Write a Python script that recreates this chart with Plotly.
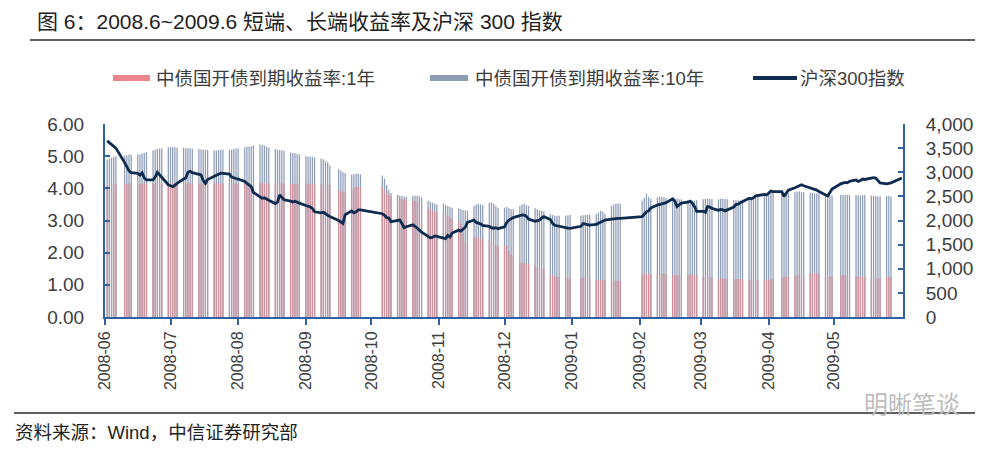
import pandas as pd
import plotly.graph_objects as go

# ---------------- data ----------------
holidays = ["2008-06-09", "2008-09-15", "2008-09-29", "2008-09-30", "2008-10-01",
            "2008-10-02", "2008-10-03", "2009-01-01", "2009-01-02", "2009-01-26",
            "2009-01-27", "2009-01-28", "2009-01-29", "2009-01-30", "2009-04-06",
            "2009-05-01", "2009-05-28", "2009-05-29"]
trade_days = pd.bdate_range("2008-06-02", "2009-06-01", freq="C", holidays=holidays)
dates = [d.strftime("%Y-%m-%d") for d in trade_days]

month_ticks = ["2008-06-01", "2008-07-01", "2008-08-01", "2008-09-01", "2008-10-01",
               "2008-11-01", "2008-12-01", "2009-01-01", "2009-02-01", "2009-03-01",
               "2009-04-01", "2009-05-01"]
month_labels = ["2008-06", "2008-07", "2008-08", "2008-09", "2008-10", "2008-11",
                "2008-12", "2009-01", "2009-02", "2009-03", "2009-04", "2009-05"]

# 沪深300指数 (daily close)
hs_jun08 = [3650, 3610, 3580, 3550, 3500, 3200, 3120, 3030, 2990, 2975, 2940, 2990, 2880, 2840,
            2840, 2900, 3000, 2950, 2880, 2740]
hs_jul08 = [2720, 2700, 2730, 2770, 2860, 2880, 3000, 3020, 2990, 2960, 2945, 2830, 2770, 2850,
            2930, 2940, 2960, 2980, 2975, 2960, 2900, 2880, 2870]
hs_aug08 = [2860, 2810, 2770, 2740, 2700, 2580, 2480, 2460, 2470, 2440, 2420, 2350, 2380, 2530,
            2480, 2430, 2400, 2385, 2400, 2375, 2360]
hs_sep08 = [2310, 2300, 2280, 2250, 2180, 2160, 2170, 2140, 2100, 2080, 2000, 1960, 1940, 2120,
            2200, 2160, 2180, 2220, 2220]
hs_oct08 = [2140, 2110, 2060, 2050, 1975, 1990, 2010, 1940, 1850, 1870, 1910, 1880, 1840, 1800,
            1760, 1670, 1640, 1650, 1680, 1670]
hs_nov08 = [1640, 1625, 1690, 1660, 1740, 1800, 1780, 1830, 1860, 1960, 2010, 1960, 1950, 1930,
            1900, 1880, 1850, 1840, 1850, 1830]
hs_dec08 = [1870, 1960, 2010, 2040, 2060, 2100, 2115, 2110, 2085, 2030, 1985, 1995, 2010, 2050,
            2080, 2020, 1940, 1900, 1890, 1865, 1845, 1840, 1838]
hs_jan09 = [1880, 1935, 1925, 1900, 1905, 1920, 1940, 1960, 1990, 2010, 2030, 2040, 2040, 2045,
            2045]
hs_feb09 = [2080, 2130, 2180, 2200, 2260, 2320, 2330, 2340, 2350, 2370, 2450, 2400, 2290, 2330,
            2360, 2380, 2400, 2360, 2290, 2190]
hs_mar09 = [2190, 2170, 2290, 2280, 2250, 2210, 2230, 2220, 2200, 2220, 2280, 2330, 2340, 2370,
            2390, 2460, 2450, 2470, 2510, 2520, 2540, 2530]
hs_apr09 = [2580, 2610, 2600, 2600, 2500, 2560, 2630, 2680, 2700, 2710, 2740, 2720, 2680, 2660,
            2640, 2630, 2600, 2530, 2510, 2580, 2650]
hs_may09 = [2760, 2770, 2790, 2780, 2810, 2840, 2810, 2830, 2860, 2850, 2870, 2890, 2880, 2820,
            2780, 2760, 2770, 2780]
hs_jun09 = [2880]

# 中债国开债到期收益率:10年
y10_jun08 = [4.90, 4.92, 4.95, 4.98, 5.00, 5.02, 5.03, 5.05, 5.05, 5.05, 5.06, 5.08, 5.10, 5.12,
             5.18, 5.20, 5.22, 5.24, 5.25, 5.27]
y10_jul08 = [5.28, 5.29, 5.28, 5.27, 5.26, 5.25, 5.25, 5.24, 5.23, 5.22, 5.21, 5.20, 5.20, 5.19,
             5.18, 5.18, 5.19, 5.20, 5.20, 5.20, 5.21, 5.22, 5.24]
y10_aug08 = [5.25, 5.27, 5.29, 5.30, 5.31, 5.33, 5.36, 5.35, 5.33, 5.30, 5.27, 5.22, 5.20, 5.19,
             5.18, 5.17, 5.12, 5.10, 5.09, 5.07, 5.05]
y10_sep08 = [5.00, 4.99, 4.98, 4.97, 4.95, 4.93, 4.90, 4.85, 4.80, 4.72, 4.60, 4.55, 4.50, 4.48,
             4.42, 4.44, 4.46, 4.45, 4.43]
y10_oct08 = [4.40, 4.30, 4.10, 3.95, 3.85, 3.80, 3.78, 3.76, 3.75, 3.74, 3.76, 3.78, 3.77, 3.75,
             3.72, 3.62, 3.58, 3.55, 3.53, 3.50]
y10_nov08 = [3.52, 3.48, 3.45, 3.43, 3.40, 3.38, 3.35, 3.33, 3.32, 3.30, 3.45, 3.50, 3.52, 3.50,
             3.48, 3.55, 3.56, 3.52, 3.45, 3.40]
y10_dec08 = [3.40, 3.42, 3.38, 3.35, 3.35, 3.45, 3.50, 3.52, 3.48, 3.45, 3.38, 3.35, 3.32, 3.30,
             3.28, 3.20, 3.17, 3.15, 3.15, 3.15, 3.15, 3.16, 3.17]
y10_jan09 = [3.15, 3.16, 3.17, 3.18, 3.18, 3.20, 3.25, 3.30, 3.28, 3.20, 3.45, 3.50, 3.52, 3.53,
             3.53]
y10_feb09 = [3.62, 3.70, 3.84, 3.72, 3.68, 3.72, 3.74, 3.74, 3.72, 3.70, 3.70, 3.68, 3.68, 3.66,
             3.66, 3.64, 3.63, 3.62, 3.62, 3.63]
y10_mar09 = [3.66, 3.68, 3.68, 3.67, 3.66, 3.66, 3.68, 3.68, 3.67, 3.66, 3.64, 3.63, 3.62, 3.62,
             3.63, 3.70, 3.72, 3.74, 3.74, 3.74, 3.78, 3.80]
y10_apr09 = [3.85, 3.88, 3.90, 3.86, 3.85, 3.84, 3.84, 3.88, 3.90, 3.90, 3.89, 3.88, 3.86, 3.85,
             3.84, 3.84, 3.83, 3.80, 3.79, 3.79, 3.78]
y10_may09 = [3.79, 3.79, 3.80, 3.79, 3.79, 3.79, 3.78, 3.78, 3.79, 3.79, 3.77, 3.76, 3.76, 3.75,
             3.75, 3.76, 3.76, 3.75]

# 中债国开债到期收益率:1年
y1_jun08 = [4.10, 4.10, 4.12, 4.12, 4.13, 4.14, 4.14, 4.15, 4.15, 4.15, 4.15, 4.15, 4.15, 4.15,
            4.15, 4.15, 4.16, 4.16, 4.16, 4.16]
y1_jul08 = [4.16, 4.16, 4.16, 4.16, 4.16, 4.16, 4.15, 4.15, 4.15, 4.15, 4.15, 4.15, 4.15, 4.15,
            4.15, 4.15, 4.15, 4.15, 4.15, 4.15, 4.15, 4.15, 4.15]
y1_aug08 = [4.15, 4.15, 4.15, 4.16, 4.16, 4.16, 4.16, 4.16, 4.16, 4.15, 4.15, 4.15, 4.15, 4.15,
            4.15, 4.15, 4.14, 4.14, 4.14, 4.14, 4.14]
y1_sep08 = [4.14, 4.14, 4.13, 4.13, 4.13, 4.13, 4.13, 4.12, 4.12, 4.10, 3.95, 3.90, 3.88, 3.88,
            3.98, 4.02, 4.05, 4.05, 4.05]
y1_oct08 = [4.05, 3.95, 3.85, 3.80, 3.75, 3.70, 3.68, 3.66, 3.65, 3.62, 3.62, 3.60, 3.58, 3.56,
            3.52, 3.40, 3.35, 3.30, 3.28, 3.25]
y1_nov08 = [3.20, 3.18, 3.15, 3.10, 3.05, 3.00, 2.90, 2.60, 2.35, 2.28, 2.50, 2.48, 2.45, 2.45,
            2.42, 2.40, 2.35, 2.25, 2.20, 2.22]
y1_dec08 = [2.22, 2.20, 2.05, 1.95, 1.90, 1.70, 1.68, 1.67, 1.66, 1.65, 1.60, 1.55, 1.52, 1.50,
            1.50, 1.32, 1.28, 1.25, 1.25, 1.24, 1.22, 1.20, 1.20]
y1_jan09 = [1.20, 1.22, 1.22, 1.20, 1.18, 1.16, 1.15, 1.15, 1.14, 1.14, 1.14, 1.13, 1.13, 1.12,
            1.12]
y1_feb09 = [1.30, 1.35, 1.36, 1.34, 1.33, 1.35, 1.36, 1.36, 1.35, 1.34, 1.32, 1.30, 1.30, 1.30,
            1.29, 1.30, 1.31, 1.32, 1.30, 1.28]
y1_mar09 = [1.25, 1.25, 1.24, 1.24, 1.23, 1.20, 1.20, 1.20, 1.19, 1.19, 1.18, 1.18, 1.18, 1.18,
            1.17, 1.16, 1.15, 1.15, 1.15, 1.15, 1.15, 1.15]
y1_apr09 = [1.15, 1.16, 1.18, 1.22, 1.24, 1.25, 1.25, 1.28, 1.29, 1.30, 1.30, 1.30, 1.34, 1.35,
            1.36, 1.35, 1.34, 1.26, 1.25, 1.25, 1.25]
y1_may09 = [1.30, 1.30, 1.29, 1.29, 1.28, 1.26, 1.25, 1.25, 1.25, 1.24, 1.22, 1.21, 1.20, 1.20,
            1.20, 1.24, 1.25, 1.25]

hs300 = (hs_jun08 + hs_jul08 + hs_aug08 + hs_sep08 + hs_oct08 + hs_nov08 + hs_dec08 +
         hs_jan09 + hs_feb09 + hs_mar09 + hs_apr09 + hs_may09 + hs_jun09)
yield_10y = (y10_jun08 + y10_jul08 + y10_aug08 + y10_sep08 + y10_oct08 + y10_nov08 + y10_dec08 +
             y10_jan09 + y10_feb09 + y10_mar09 + y10_apr09 + y10_may09)
yield_1y = (y1_jun08 + y1_jul08 + y1_aug08 + y1_sep08 + y1_oct08 + y1_nov08 + y1_dec08 +
            y1_jan09 + y1_feb09 + y1_mar09 + y1_apr09 + y1_may09)
bond_dates = dates[:len(yield_10y)]

name_1y = "中债国开债到期收益率:1年"
name_10y = "中债国开债到期收益率:10年"
name_hs = "沪深300指数"
title_text = "图 6：2008.6~2009.6 短端、长端收益率及沪深 300 指数"
source_text = "资料来源：Wind，中信证券研究部"

# ---------------- style ----------------
W, H = 1002, 453
L, R, T, B = 105, 903, 124, 317
PINK_LEG = "#EE858B"
PINK_BAR = "rgba(207,145,155,0.99)"
GRAY_BAR = "rgba(141,156,181,0.99)"
GRAY = "#8D9CB5"
NAVY = "#0E2B50"
AX = "#2F62A0"
TXT = "#3c3c3c"
FONT = "Liberation Sans, Arial, Noto Sans CJK SC, sans-serif"
DAY_MS = 86400000


def px(x):
    return (x - L) / (R - L)


def py(y):
    return (B - y) / (B - T)


fig = go.Figure()
fig.add_trace(go.Bar(x=bond_dates, y=yield_10y, name=name_10y, width=0.58 * DAY_MS,
                     marker=dict(color=GRAY_BAR, line=dict(width=0)), yaxis="y"))
fig.add_trace(go.Bar(x=bond_dates, y=yield_1y, name=name_1y, width=0.58 * DAY_MS,
                     marker=dict(color=PINK_BAR, line=dict(width=0)), yaxis="y"))
fig.add_trace(go.Scatter(x=dates, y=hs300, name=name_hs, mode="lines",
                         line=dict(color=NAVY, width=2.8), yaxis="y2"))

shapes = [
    dict(type="rect", xref="paper", yref="paper", x0=px(113), x1=px(150), y0=py(81), y1=py(75),
         fillcolor=PINK_LEG, line=dict(width=0)),
    dict(type="rect", xref="paper", yref="paper", x0=px(430), x1=px(468), y0=py(81), y1=py(75),
         fillcolor=GRAY, line=dict(width=0)),
    dict(type="line", xref="paper", yref="paper", x0=px(753), x1=px(797), y0=py(78), y1=py(78),
         line=dict(color=NAVY, width=4)),
    dict(type="line", xref="paper", yref="paper", x0=px(30), x1=px(975), y0=py(40), y1=py(40),
         line=dict(color="#2a2a2a", width=1.5)),
    dict(type="line", xref="paper", yref="paper", x0=px(14), x1=px(975), y0=py(413), y1=py(413),
         line=dict(color="#2a2a2a", width=1.5)),
]

annotations = [
    dict(text=title_text, x=px(35), y=py(21), xref="paper", yref="paper", xanchor="left",
         yanchor="middle", showarrow=False, font=dict(size=21, color="#222222", family=FONT)),
    dict(text=name_1y, x=px(154), y=py(78), xref="paper", yref="paper", xanchor="left",
         yanchor="middle", showarrow=False, font=dict(size=18.5, color=TXT, family=FONT)),
    dict(text=name_10y, x=px(473), y=py(78), xref="paper", yref="paper", xanchor="left",
         yanchor="middle", showarrow=False, font=dict(size=18.5, color=TXT, family=FONT)),
    dict(text=name_hs, x=px(798), y=py(78), xref="paper", yref="paper", xanchor="left",
         yanchor="middle", showarrow=False, font=dict(size=18.5, color=TXT, family=FONT)),
    dict(text=source_text, x=px(13), y=py(432), xref="paper", yref="paper", xanchor="left",
         yanchor="middle", showarrow=False, font=dict(size=18.5, color="#222222", family=FONT)),
    dict(text="明晰笔谈", x=px(912), y=py(404), xref="paper", yref="paper", xanchor="center",
         yanchor="middle", showarrow=False, font=dict(size=24, color="#bdbdbd", family=FONT)),
]

fig.update_layout(
    width=W, height=H, autosize=False,
    margin=dict(l=L, r=W - R, t=T, b=H - B, pad=0),
    paper_bgcolor="white", plot_bgcolor="white",
    showlegend=False,
    barmode="overlay",
    font=dict(family=FONT, color=TXT),
    shapes=shapes, annotations=annotations,
    xaxis=dict(type="date", range=["2008-06-01", "2009-06-01 12:00"],
               tickmode="array", tickvals=month_ticks, ticktext=month_labels,
               tickangle=-90, ticks="outside", ticklen=6, tickwidth=2, tickcolor=AX,
               showline=True, linecolor=AX, linewidth=2, showgrid=False, zeroline=False,
               tickfont=dict(size=16, color=TXT, family=FONT)),
    yaxis=dict(range=[0, 6], tickmode="linear", tick0=0, dtick=1, tickformat=".2f",
               ticks="inside", ticklen=5, tickwidth=2, tickcolor=AX,
               showline=True, linecolor=AX, linewidth=2, showgrid=False, zeroline=False,
               ticklabelstandoff=15, tickfont=dict(size=19, color=TXT, family=FONT)),
    yaxis2=dict(range=[0, 4000], tickmode="linear", tick0=0, dtick=500, tickformat=",",
                overlaying="y", side="right",
                ticks="inside", ticklen=5, tickwidth=2, tickcolor=AX,
                showline=True, linecolor=AX, linewidth=2, showgrid=False, zeroline=False,
                ticklabelstandoff=17, tickfont=dict(size=19, color=TXT, family=FONT)),
)

fig.write_html("out.html", config={"displayModeBar": False},
               post_script="document.body.style.margin='0';")
